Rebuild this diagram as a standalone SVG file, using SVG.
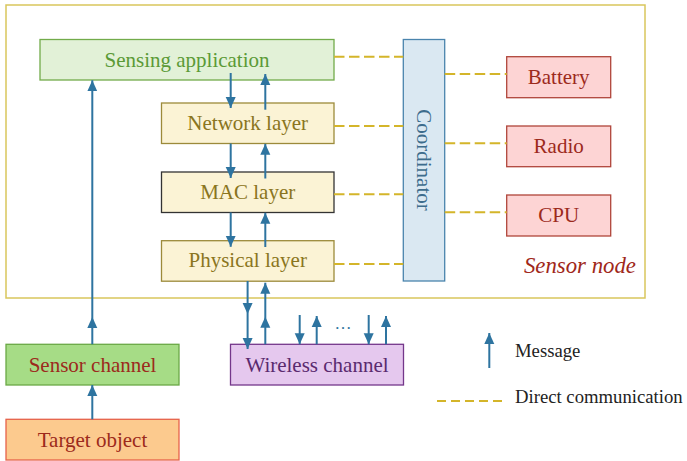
<svg xmlns="http://www.w3.org/2000/svg" width="687" height="461" viewBox="0 0 687 461" font-family="'Liberation Serif', 'Times New Roman', 'DejaVu Serif', serif">
<defs>
<marker id="ah" markerUnits="userSpaceOnUse" markerWidth="11" markerHeight="11" viewBox="0 0 11 10" refX="11" refY="5" orient="auto">
<path d="M0,0 L11,5 L0,10 z" fill="#2e74a0"/>
</marker>
</defs>
<style>
text{font-family:'Liberation Serif','Times New Roman','DejaVu Serif',serif;font-size:21px;text-anchor:middle}
.msg{stroke:#2e74a0;stroke-width:2;fill:none;marker-end:url(#ah)}
.msg2{stroke:#2e74a0;stroke-width:2;fill:none;marker-end:url(#ah);marker-mid:url(#ah)}
.dc{stroke:#d4b52a;stroke-width:2;stroke-dasharray:10.5,4.5;fill:none}
.app rect{fill:#e2f1d7;stroke:#72ab4a;stroke-width:1.3}
.app text{fill:#5b9a36}
.lay rect{fill:#fbf3d5;stroke:#9c8a3a;stroke-width:1.3}
.lay text{fill:#8a7520}
.hw rect{fill:#fdd4d4;stroke:#b0453a;stroke-width:1.3}
.hw text{fill:#9c2a1c}
.leg{font-size:18.7px;text-anchor:start;fill:#222}
</style>

<g id="sensor-node">
<rect x="6" y="5" width="639" height="293" fill="none" stroke="#d9c65c" stroke-width="1.5"/>
<text x="636" y="273" style="font-style:italic;font-size:22.8px;text-anchor:end" fill="#a0281a">Sensor node</text>
</g>

<g id="sensing-application" class="app">
<rect x="40" y="39.5" width="294" height="40.5"/>
<text x="187" y="66.8">Sensing application</text>
</g>
<g id="network-layer" class="lay">
<rect x="161.5" y="103" width="172.5" height="40.5"/>
<text x="247.7" y="129.6">Network layer</text>
</g>
<g id="mac-layer" class="lay">
<rect x="161.5" y="172" width="172.5" height="40.5" style="stroke:#333"/>
<text x="247.7" y="198.6">MAC layer</text>
</g>
<g id="physical-layer" class="lay">
<rect x="161.5" y="240.7" width="172.5" height="40.5"/>
<text x="247.7" y="267.4">Physical layer</text>
</g>
<g id="coordinator">
<rect x="403.3" y="39.5" width="41.4" height="241.5" fill="#dae8f2" stroke="#4a84ad" stroke-width="1.3"/>
<text transform="translate(424,160) rotate(90)" x="0" y="7.5" fill="#3d6c8c">Coordinator</text>
</g>
<g id="battery" class="hw">
<rect x="506.7" y="56.7" width="104" height="41"/>
<text x="558.7" y="84">Battery</text>
</g>
<g id="radio" class="hw">
<rect x="506.7" y="126" width="104" height="40.7"/>
<text x="558.7" y="153">Radio</text>
</g>
<g id="cpu" class="hw">
<rect x="506.7" y="195" width="104" height="41"/>
<text x="558.7" y="222">CPU</text>
</g>
<g id="sensor-channel">
<rect x="6" y="344.3" width="173" height="40.7" fill="#a6dc86" stroke="#6aa846" stroke-width="1.3"/>
<text x="92.5" y="371.8" fill="#9c2a1c">Sensor channel</text>
</g>
<g id="target-object">
<rect x="6" y="419.3" width="173" height="40.7" fill="#fcca8e" stroke="#e6614a" stroke-width="1.3"/>
<text x="92.5" y="446.8" fill="#9c2a1c">Target object</text>
</g>
<g id="wireless-channel">
<rect x="230.5" y="344.3" width="173" height="40.7" fill="#e5c8ee" stroke="#74378a" stroke-width="1.3"/>
<text x="317" y="371.8" fill="#5a2a6e">Wireless channel</text>
</g>

<g id="connectors">
<path class="dc" d="M334,56.7 H403.3"/>
<path class="dc" d="M334,126 H403.3"/>
<path class="dc" d="M334,194.3 H403.3"/>
<path class="dc" d="M334,264 H403.3"/>
<path class="dc" d="M444.7,74 H506.7"/>
<path class="dc" d="M444.7,143.3 H506.7"/>
<path class="dc" d="M444.7,212.3 H506.7"/>
<path class="msg" d="M230.7,73 V108"/>
<path class="msg" d="M265.3,109.7 V74"/>
<path class="msg" d="M230.7,143.5 V178"/>
<path class="msg" d="M265.3,178.5 V143.8"/>
<path class="msg" d="M230.7,212.5 V246.8"/>
<path class="msg" d="M265.3,247 V212.8"/>
<path class="msg2" d="M247.6,281 L247.6,314 L247.6,349"/>
<path class="msg2" d="M265.3,344.3 L265.3,316.7 L265.3,282.7"/>
<path class="msg" d="M299.7,315 V344.3"/>
<path class="msg" d="M316.7,344.3 V316"/>
<path class="msg" d="M368.7,315 V344.3"/>
<path class="msg" d="M386,344.3 V316"/>
<text x="343" y="329" style="font-size:17px;fill:#2e74a0">…</text>
<path class="msg2" d="M92.3,344.3 L92.3,317 L92.3,80.3"/>
<path class="msg" d="M92.3,419.3 V385"/>
</g>

<g id="legend">
<path class="msg" d="M489.3,368 V333"/>
<text class="leg" x="515" y="357.3">Message</text>
<path class="dc" d="M437,401 H507" style="stroke-dasharray:9,5"/>
<text class="leg" x="515" y="403.3">Direct communication</text>
</g>
</svg>
